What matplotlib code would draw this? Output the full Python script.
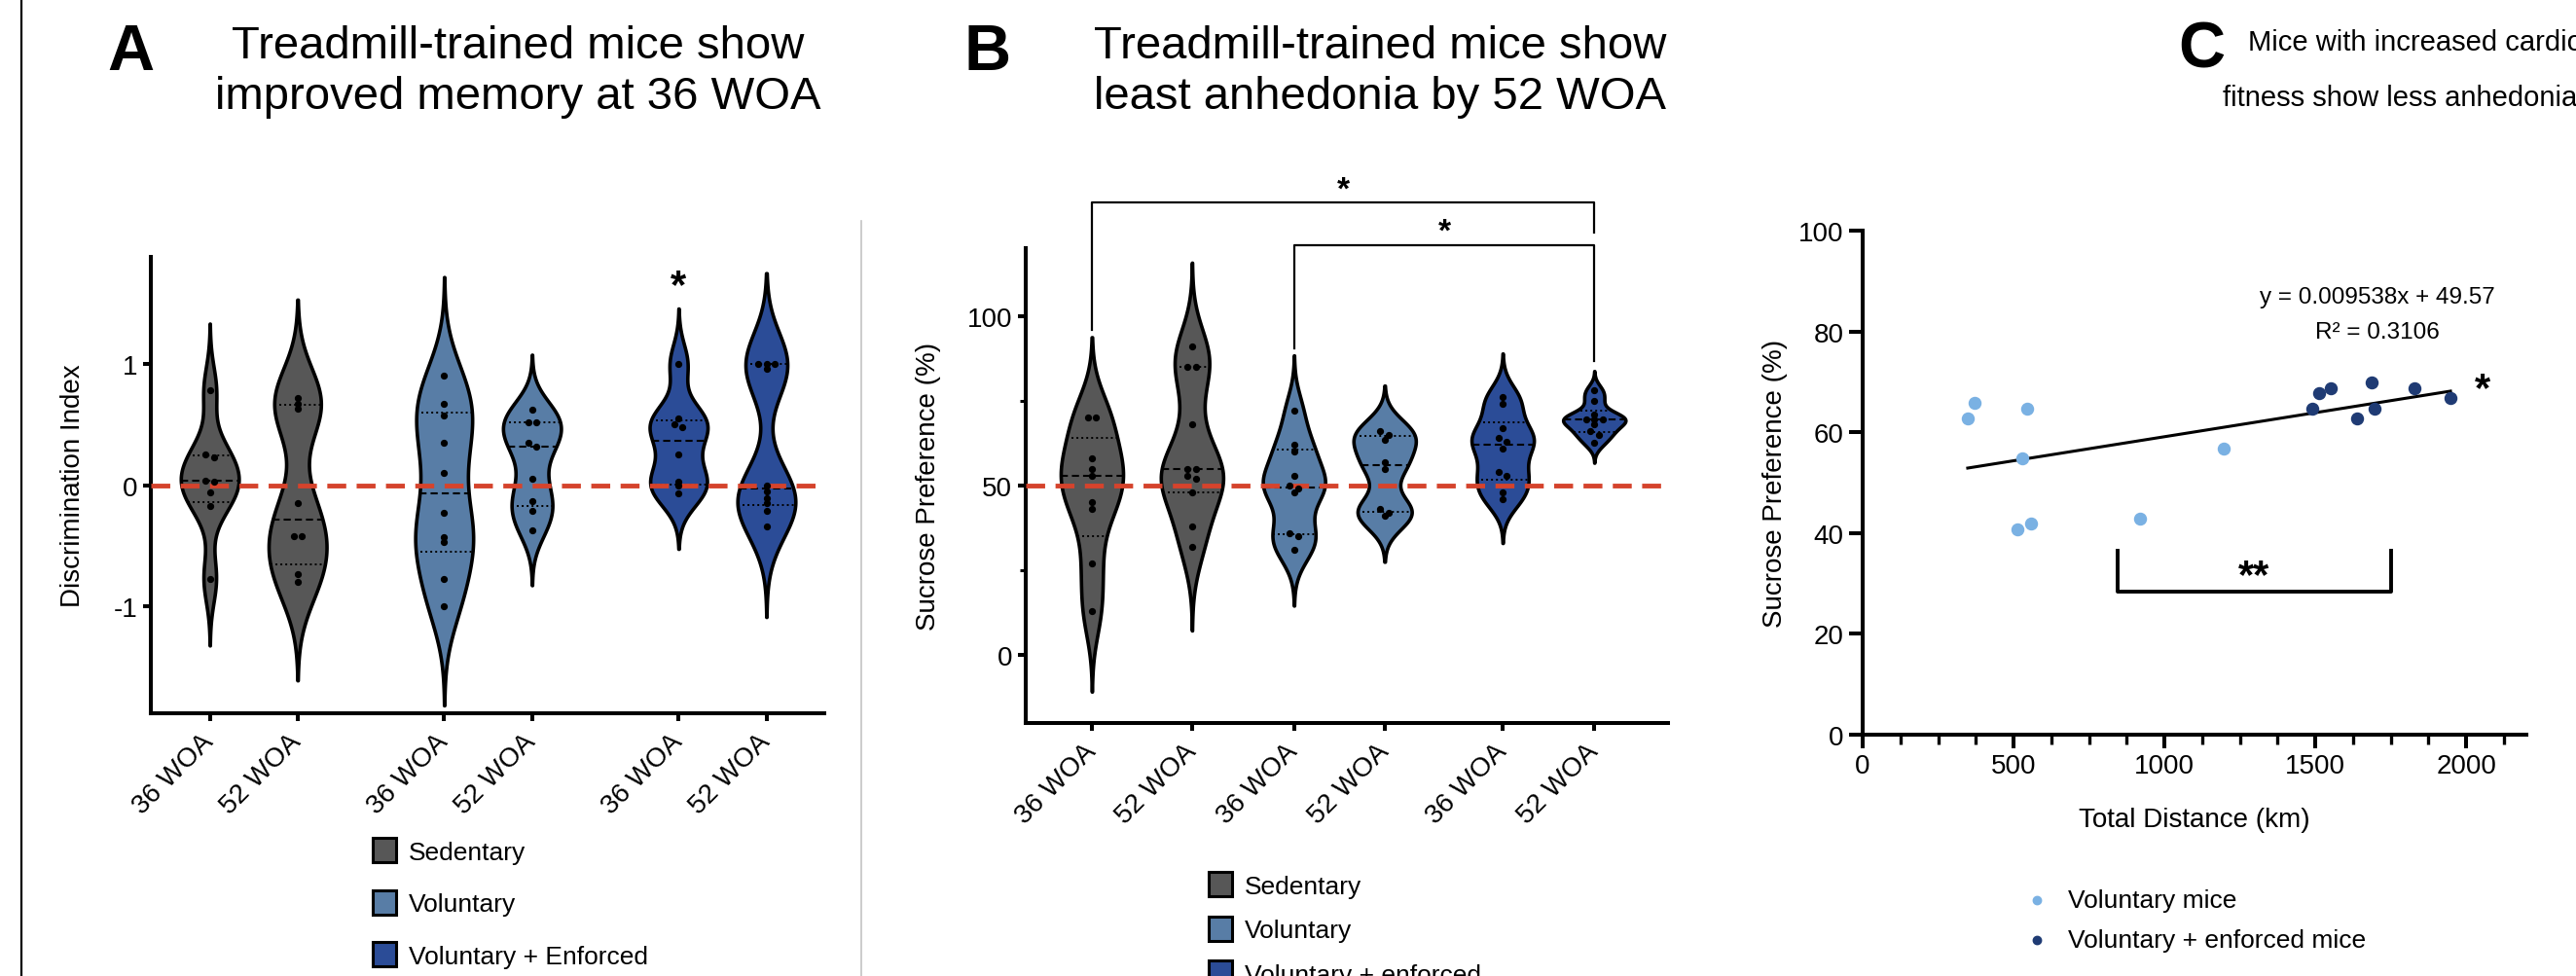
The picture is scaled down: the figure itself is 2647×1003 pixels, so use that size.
import numpy as np
import matplotlib
matplotlib.use('Agg')
import matplotlib.pyplot as plt
from matplotlib.patches import Patch
from matplotlib.lines import Line2D

plt.rcParams['font.family'] = ['Liberation Sans', 'DejaVu Sans']
plt.rcParams['axes.unicode_minus'] = False

# ---- panel A : discrimination index ----
a_labels = ['36 WOA', '52 WOA'] * 3
a_sed36 = [0.78, 0.25, 0.23, 0.04, 0.03, -0.06, -0.17, -0.77]
a_sed52 = [0.72, 0.67, 0.63, -0.15, -0.42, -0.42, -0.73, -0.80]
a_vol36 = [0.90, 0.67, 0.57, 0.35, 0.10, -0.23, -0.43, -0.47, -0.77, -1.00]
a_vol52 = [0.62, 0.52, 0.52, 0.35, 0.32, 0.05, -0.13, -0.21, -0.37]
a_ve36 = [1.00, 0.55, 0.50, 0.48, 0.25, 0.03, 0.00, -0.07]
a_ve52 = [1.00, 1.00, 1.00, 0.96, 0.00, -0.05, -0.11, -0.15, -0.21, -0.34]

# ---- panel B : sucrose preference ----
b_sed36 = [70, 70, 58, 55, 53, 45, 43, 27, 13]
b_sed52 = [91, 85, 85, 68, 55, 55, 53, 52, 48, 38, 32]
b_vol36 = [72, 62, 60, 53, 50, 49, 48, 36, 35, 31]
b_vol52 = [66, 65, 63.5, 57, 55, 43, 42, 41]
b_ve36 = [76, 74, 67, 64, 63, 61, 54, 53, 48, 46]
b_ve52 = [78, 75, 71, 69.6, 69.6, 69.6, 68, 66, 65, 62.5]

# ---- panel C : distance vs sucrose preference ----
vol_km = [348, 370, 545, 530, 512, 559, 918, 1195]
vol_sp = [62.7, 65.8, 64.7, 54.8, 40.7, 41.9, 42.8, 56.7]
ve_km = [1489, 1512, 1550, 1687, 1639, 1695, 1830, 1948]
ve_sp = [64.7, 67.8, 68.7, 69.8, 62.7, 64.7, 68.8, 66.7]
slope, intercept, r2 = 0.009538, 49.57, 0.3106

group_names = ['Sedentary', 'Voluntary', 'Voluntary + Enforced']
c_sed, c_vol, c_ve = '#575757', '#587DA6', '#2B4C97'
c_light, c_dark = '#7AB1E3', '#1F3B74'
red = '#D5432C'


def dot_x(vals, tol):
    vals = np.asarray(vals, float)
    xs = np.zeros(len(vals))
    used = np.zeros(len(vals), bool)
    for i in range(len(vals)):
        if used[i]:
            continue
        grp = [j for j in range(len(vals)) if not used[j] and abs(vals[j] - vals[i]) < tol]
        for k, j in enumerate(grp):
            xs[j] = (k - (len(grp) - 1) / 2) * 0.09
            used[j] = True
    return xs


def violin(ax, vals, pos, color, tol, w=0.33, bw=0.45, cut=2.8):
    v = np.asarray(vals, float)
    h = bw * v.std(ddof=1)
    y = np.linspace(v.min() - cut * h, v.max() + cut * h, 600)
    d = np.exp(-0.5 * ((y[:, None] - v[None, :]) / h) ** 2).sum(1)
    d = d / d.max() * w
    ax.fill_betweenx(y, pos - d, pos + d, facecolor=color, edgecolor='black',
                     lw=2.6, zorder=2)
    q1, med, q3 = np.percentile(v, [25, 50, 75], method='weibull')
    for q, st in [(q1, (1, 1.6)), (q3, (1, 1.6)), (med, (3.5, 2))]:
        half = np.interp(q, y, d)
        ax.plot([pos - half, pos + half], [q, q], color='black',
                lw=1.5 if st[0] > 1 else 1.4, dashes=st, zorder=3)
    ax.plot(pos + dot_x(v, tol), v, 'o', color='black', ms=4.2, zorder=5)


def style(ax):
    for s in ['top', 'right']:
        ax.spines[s].set_visible(False)
    for s in ['left', 'bottom']:
        ax.spines[s].set_linewidth(2.9)
    ax.tick_params(width=2.9, length=6, labelsize=20, pad=4)


fig = plt.figure(figsize=(26.47, 10.04), dpi=100)

# frame lines
fig.add_artist(Line2D([22 / 2647, 22 / 2647], [0, 1], color='black', lw=1.6))
fig.add_artist(Line2D([885 / 2647, 885 / 2647], [0, 1 - 228 / 1004], color='#c4c4c4', lw=1.2))

# ---------------- A ----------------
axA = fig.add_axes([0.0586, 0.2689, 0.2614, 0.4671])
a_pos = [0, 1, 2.67, 3.67, 5.34, 6.34]
a_sets = [a_sed36, a_sed52, a_vol36, a_vol52, a_ve36, a_ve52]
a_cols = [c_sed, c_sed, c_vol, c_vol, c_ve, c_ve]
for p, vals, c in zip(a_pos, a_sets, a_cols):
    violin(axA, vals, p, c, tol=0.03)
axA.axhline(0, color=red, lw=3.5, dashes=(4, 2.2), zorder=4)
axA.set_xlim(-0.67, 7.0)
axA.set_ylim(-1.88, 1.88)
axA.set_yticks([-1, 0, 1])
axA.set_xticks(a_pos)
axA.set_xticklabels(a_labels, rotation=45, ha='right', va='center', rotation_mode='anchor')
style(axA)
axA.tick_params(axis='x', pad=12)
axA.set_ylabel('Discrimination Index', fontsize=20)
axA.yaxis.set_label_coords(-0.097, 0.5)
axA.text(a_pos[4], 1.64, '*', fontsize=30, fontweight='bold', ha='center', va='center')
axA.legend(handles=[Patch(facecolor=c, edgecolor='black', lw=2.2) for c in [c_sed, c_vol, c_ve]],
           labels=group_names, loc='upper left', bbox_to_anchor=(383 / 2647, 1 - 862 / 1004),
           bbox_transform=fig.transFigure, frameon=False, fontsize=19, borderpad=0,
           borderaxespad=0, handlelength=0.9, handleheight=1.1, handletextpad=0.5,
           labelspacing=1.02)

# ---------------- B ----------------
axB = fig.add_axes([0.3982, 0.259, 0.2493, 0.486])
b_pos = [0, 1.06, 2.14, 3.1, 4.35, 5.32]
b_sets = [b_sed36, b_sed52, b_vol36, b_vol52, b_ve36, b_ve52]
for p, vals, c in zip(b_pos, b_sets, a_cols):
    violin(axB, vals, p, c, tol=1.2)
axB.axhline(50, color=red, lw=3.5, dashes=(4, 2.2), zorder=4)
axB.set_xlim(-0.7, 6.1)
axB.set_ylim(-20, 120)
axB.set_yticks([0, 50, 100])
axB.set_yticks([25, 75], minor=True)
axB.set_xticks(b_pos)
axB.set_xticklabels(a_labels, rotation=45, ha='right', va='center', rotation_mode='anchor')
style(axB)
axB.tick_params(axis='y', which='minor', width=2.2, length=4)
axB.tick_params(axis='x', pad=12)
axB.set_ylabel('Sucrose Preference (%)', fontsize=20)
axB.yaxis.set_label_coords(-0.132, 0.5)
# significance brackets
kw = dict(color='black', lw=1.6, clip_on=False)
axB.plot([b_pos[0], b_pos[0], b_pos[5], b_pos[5]], [96, 133.5, 133.5, 124.5], **kw)
axB.plot([b_pos[2], b_pos[2], b_pos[5], b_pos[5]], [90.4, 121, 121, 86.8], **kw)
axB.text((b_pos[0] + b_pos[5]) / 2, 137.2, '*', fontsize=24, fontweight='bold', ha='center', va='center')
axB.text((b_pos[2] + b_pos[5]) / 2, 124.8, '*', fontsize=24, fontweight='bold', ha='center', va='center')
axB.legend(handles=[Patch(facecolor=c, edgecolor='black', lw=2.2) for c in [c_sed, c_vol, c_ve]],
           labels=['Sedentary', 'Voluntary', 'Voluntary + enforced'], loc='upper left',
           bbox_to_anchor=(1242 / 2647, 1 - 897 / 1004), bbox_transform=fig.transFigure,
           frameon=False, fontsize=19, borderpad=0, borderaxespad=0, handlelength=0.9,
           handleheight=1.1, handletextpad=0.5, labelspacing=0.72)

# ---------------- C ----------------
axC = fig.add_axes([0.7231, 0.247, 0.2577, 0.516])
xl = np.array([min(vol_km), max(ve_km)])
axC.plot(xl, slope * xl + intercept, color='black', lw=2.2, zorder=2)
axC.scatter(vol_km, vol_sp, s=75, color=c_light, zorder=3, label='Voluntary mice')
axC.scatter(ve_km, ve_sp, s=75, color=c_dark, zorder=3, label='Voluntary + enforced mice')
axC.set_xlim(0, 2200)
axC.set_ylim(0, 100)
axC.set_xticks([0, 500, 1000, 1500, 2000])
axC.set_xticks(np.arange(0, 2200, 125), minor=True)
axC.set_yticks([0, 20, 40, 60, 80, 100])
style(axC)
axC.tick_params(which='major', length=10)
axC.tick_params(which='minor', length=7, width=2.4)
axC.set_ylabel('Sucrose Preference (%)', fontsize=20)
axC.yaxis.set_label_coords(-0.113, 0.5)
axC.set_xlabel('Total Distance (km)', fontsize=20)
axC.xaxis.set_label_coords(0.5, -0.142)
axC.text(1706, 86.8, f'y = {slope}x + {intercept}', fontsize=17.5, ha='center', va='center')
axC.text(1706, 79.9, f'R² = {r2}', fontsize=17.5, ha='center', va='center')
axC.text(2055, 68.5, '*', fontsize=30, fontweight='bold', ha='center', va='center')
axC.plot([846, 846, 1750, 1750], [36.4, 28.3, 28.3, 36.4], color='black', lw=2.8)
axC.text(1298, 31.5, '**', fontsize=30, fontweight='bold', ha='center', va='center')
axC.legend(loc='upper left', bbox_to_anchor=(2085 / 2647, 1 - 914 / 1004),
           bbox_transform=fig.transFigure, frameon=False, fontsize=19, borderpad=0,
           borderaxespad=0, handlelength=0.6, handletextpad=0.9, labelspacing=0.66,
           markerscale=0.7)

# ---------------- titles ----------------
fig.text(134 / 2647, 1 - 55 / 1004, 'A', fontsize=48, fontweight='bold', ha='center', va='center')
fig.text(1015 / 2647, 1 - 55 / 1004, 'B', fontsize=48, fontweight='bold', ha='center', va='center')
fig.text(2262 / 2647, 1 - 52 / 1004, 'C', fontsize=48, fontweight='bold', ha='center', va='center')
fig.text(532 / 2647, 1 - 74 / 1004, 'Treadmill-trained mice show\nimproved memory at 36 WOA',
         fontsize=34, ha='center', va='center', linespacing=1.25)
fig.text(1418 / 2647, 1 - 74 / 1004, 'Treadmill-trained mice show\nleast anhedonia by 52 WOA',
         fontsize=34, ha='center', va='center', linespacing=1.25)
fig.text(2310 / 2647, 1 - 44 / 1004, 'Mice with increased cardiovascular',
         fontsize=21, ha='left', va='center')
fig.text(2466 / 2647, 1 - 101 / 1004, 'fitness show less anhedonia',
         fontsize=21, ha='center', va='center')

fig.savefig('out.png', dpi=100)
